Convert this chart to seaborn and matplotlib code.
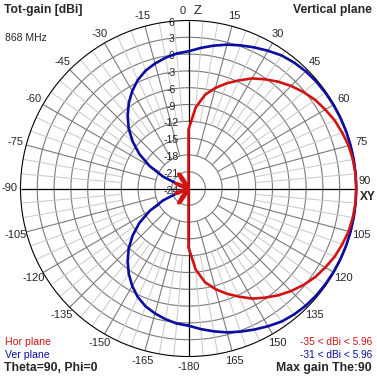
import numpy as np
import pandas as pd
import matplotlib
matplotlib.use("Agg")
import matplotlib.pyplot as plt
import seaborn as sns

# Angles in degrees, 0 = Z (top), clockwise positive
angles = list(range(-180, 185, 5))

# Vertical plane gain [dBi] (-180 .. 180, 5 deg steps)
ver_gain = [
    0.5, 0.2, -0.3, -0.9, -1.6, -2.6, -3.9, -5.4, -7.1, -8.9, -11.0, -13.3, -16.0,
    -19.0, -22.5, -26.0, -29.0, -30.6, -31.0, -30.6, -29.0, -26.0, -22.5, -19.0,
    -16.0, -13.3, -11.0, -8.9, -7.1, -5.4, -3.9, -2.6, -1.6, -0.9, -0.3, 0.2,
    0.5, 1.2, 1.9, 2.6, 3.2, 3.8, 4.4, 5.0, 5.35, 5.6, 5.75, 5.83, 5.88,
    5.92, 5.94, 5.95, 5.96, 5.96, 5.96, 5.96, 5.96, 5.95, 5.94, 5.92, 5.88,
    5.83, 5.75, 5.6, 5.35, 5.0, 4.4, 3.8, 3.2, 2.6, 1.9, 1.2, 0.5,
]

# Horizontal plane gain [dBi]
hor_gain = [
    -13.5, -33.0, -30.0, -28.0, -25.0, -22.5, -21.0, -20.8, -22.0, -25.0, -30.0,
    -26.0, -23.0, -21.8, -21.5, -22.5, -26.0, -32.0, -35.0, -32.0, -26.0, -22.5,
    -21.5, -21.8, -23.0, -26.0, -30.0, -25.0, -22.0, -20.8, -21.0, -22.5, -25.0,
    -28.0, -30.0, -33.0,
    -13.5, -9.5, -7.0, -5.4, -4.0, -2.7, -1.3, -0.2, 0.9, 1.9, 2.8, 3.6, 4.2,
    4.8, 5.2, 5.6, 5.8, 5.93, 5.96, 5.93, 5.8, 5.6, 5.2, 4.8, 4.2, 3.6, 2.8,
    1.9, 0.9, -0.2, -1.3, -2.7, -4.0, -5.4, -7.0, -9.5, -13.5,
]

ring_levels = list(range(-21, 6, 3))
radial_labels = list(range(6, -25, -3))
angle_labels = [a for a in range(-180, 180, 15) if a not in (0, 90)]

r_min, r_max = -24, 6
RED = "#d01414"
BLUE = "#0c0ca0"

df = pd.DataFrame({
    "theta": np.deg2rad(angles * 2),
    "gain": ver_gain + hor_gain,
    "plane": ["Ver plane"] * len(angles) + ["Hor plane"] * len(angles),
})
df["r"] = df["gain"].clip(lower=r_min)

sns.set_style("white")
plt.rcParams["font.family"] = ["Liberation Sans", "DejaVu Sans"]

fig = plt.figure(figsize=(3.77, 3.77), dpi=100)
ax = fig.add_axes([20.5 / 377, 20.5 / 377, 336 / 377, 336 / 377], projection="polar")
ax.set_theta_zero_location("N")
ax.set_theta_direction(-1)

# grid: rings and spokes
tc = np.linspace(0, 2 * np.pi, 721)
for v in ring_levels:
    ax.plot(tc, np.full_like(tc, v), color="#7a7a7a", lw=0.8, zorder=1)
minor = [a for a in range(0, 360, 5) if a % 15]
major = [a for a in range(0, 360, 15) if a % 90]
ax.vlines(np.deg2rad(minor), -12, r_max, color="#c8c8c8", lw=0.7, zorder=1)
ax.vlines(np.deg2rad(major), -18, r_max, color="#7a7a7a", lw=0.8, zorder=1)
ax.vlines(np.deg2rad([0, 90, 180, 270]), r_min, r_max, color="black", lw=0.9, zorder=2)

sns.lineplot(data=df[df["plane"] == "Ver plane"], x="theta", y="r", color=BLUE,
             lw=1.9, sort=False, estimator=None, ax=ax, zorder=3)
sns.lineplot(data=df[df["plane"] == "Hor plane"], x="theta", y="r", color=RED,
             lw=1.9, sort=False, estimator=None, ax=ax, zorder=4)
for ln in ax.get_lines()[-2:]:
    ln.set_clip_on(False)

ax.set_ylim(r_min, r_max)
ax.set_xticks([])
ax.set_yticks([])
ax.grid(False)
ax.set_xlabel("")
ax.set_ylabel("")
ax.spines["polar"].set_color("black")
ax.spines["polar"].set_linewidth(0.8)

# radial labels along the Z axis
for v in radial_labels:
    ax.annotate(str(v), xy=(0, v), xytext=(-17, -2), textcoords="offset pixels",
                ha="center", va="center", fontsize=7.5, zorder=2)

# angle labels
for a in angle_labels:
    ax.text(np.deg2rad(a), 7.9, str(a), ha="center", va="center", fontsize=8)
ax.annotate("0", xy=(0, r_max), xytext=(-6, 9), textcoords="offset pixels",
            ha="center", va="center", fontsize=8)
ax.annotate("Z", xy=(0, r_max), xytext=(9, 9), textcoords="offset pixels",
            ha="center", va="center", fontsize=9.5)
ax.annotate("90", xy=(np.pi / 2, r_max), xytext=(2, 7), textcoords="offset pixels",
            ha="left", va="center", fontsize=8)
ax.annotate("XY", xy=(np.pi / 2, r_max), xytext=(3, -9), textcoords="offset pixels",
            ha="left", va="center", fontsize=8.5, fontweight="bold")

def px(x, y):
    return x / 377, 1 - y / 377

fig.text(*px(4, 10), "Tot-gain [dBi]", ha="left", va="center", fontsize=8.7, fontweight="bold")
fig.text(*px(372, 10), "Vertical plane", ha="right", va="center", fontsize=8.7, fontweight="bold")
fig.text(*px(5, 38), "868 MHz", ha="left", va="center", fontsize=7.5)
fig.text(*px(5, 342), "Hor plane", ha="left", va="center", fontsize=7.6, color=RED)
fig.text(*px(5, 355), "Ver plane", ha="left", va="center", fontsize=7.6, color=BLUE)
fig.text(*px(4, 368), "Theta=90, Phi=0", ha="left", va="center", fontsize=8.8, fontweight="bold")
fig.text(*px(372, 342), "-35 < dBi < 5.96", ha="right", va="center", fontsize=7.3, color=RED)
fig.text(*px(372, 355), "-31 < dBi < 5.96", ha="right", va="center", fontsize=7.3, color=BLUE)
fig.text(*px(372, 368), "Max gain The:90", ha="right", va="center", fontsize=8.8, fontweight="bold")

fig.savefig("out.png", dpi=100, facecolor="white")
